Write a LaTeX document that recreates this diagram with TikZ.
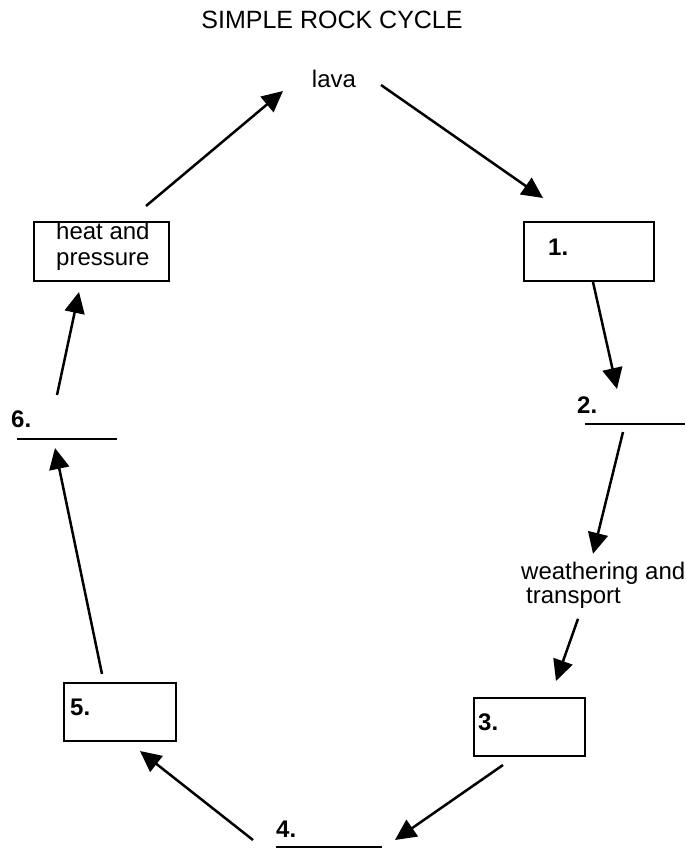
\documentclass[tikz,border=0pt]{standalone}
\usepackage{fontspec}
\setmainfont{Liberation Sans}
\usetikzlibrary{arrows.meta}
\begin{document}
\begin{tikzpicture}[x=1pt,y=-1pt,
  lbl/.style={font=\fontsize{24}{24}\selectfont, inner sep=0pt, anchor=base west},
  num/.style={font=\fontsize{24}{24}\selectfont\bfseries, inner sep=0pt, anchor=base west},
  box/.style={draw, line width=2pt, inner sep=0pt},
  blank/.style={inner sep=0pt, minimum width=100pt, minimum height=0pt},
  blankline/.style={line width=2pt},
  arr/.style={line width=2.5pt, -{Triangle[length=21pt,width=20pt]}}]
\useasboundingbox (0,0) rectangle (685,848);

% title and labels
\node[font=\fontsize{25}{25}\selectfont, anchor=base, inner sep=0pt] (title) at (332,29) {SIMPLE ROCK CYCLE};
\node[lbl, anchor=base] (lava) at (334,88) {lava};

% boxes
\node[box, minimum width=135pt, minimum height=59pt] (hp) at (101.5,251.5) {};
\node[lbl, anchor=north west, align=left, font=\fontsize{24}{26}\selectfont] (hpt) at (56,221.8) {heat and\\pressure};
\node[box, minimum width=130pt, minimum height=59pt] (b1) at (589,251.5) {};
\node[num] (n1) at (548,255) {1.};
\node[box, minimum width=111pt, minimum height=58pt] (b3) at (529.5,727) {};
\node[num] (n3) at (478,730) {3.};
\node[box, minimum width=112pt, minimum height=58pt] (b5) at (120,712) {};
\node[num] (n5) at (70,715) {5.};

% blanks
\node[num] (n2) at (577,413) {2.};
\node[blank] (b2) at (635,424) {};
\draw[blankline] (b2.west) -- (b2.east);
\node[num] (n6) at (11,427) {6.};
\node[blank] (b6) at (67,439) {};
\draw[blankline] (b6.west) -- (b6.east);
\node[num] (n4) at (276,837) {4.};
\node[blank, minimum width=106pt] (b4) at (329,846.5) {};
\draw[blankline] (b4.west) -- (b4.east);

% weathering
\node[lbl, anchor=north west, align=left] (wt) at (521,561.8) {weathering and\\\hspace*{5pt}transport};

% arrows
\draw[arr] ([shift={(44.5,-15)}]hp.north) -- ([shift={(-51,3)}]lava.base);
\draw[arr] ([shift={(47,-3)}]lava.base) -- ([shift={(-46,-23)}]b1.north);
\draw[arr] ([shift={(4,0)}]b1.south) -- ([shift={(-18,-35)}]b2.center);
\draw[arr] ([shift={(-12,8)}]b2.center) -- ([shift={(72,-8)}]wt.north west);
\draw[arr] ([shift={(57,57)}]wt.north west) -- ([shift={(26.5,-16)}]b3.north);
\draw[arr] ([shift={(-26.5,8)}]b3.south) -- ([shift={(66,-6.5)}]b4.center);
\draw[arr] ([shift={(-76,-6.5)}]b4.center) -- ([shift={(20,9)}]b5.south);
\draw[arr] ([shift={(-18,-8)}]b5.north) -- ([shift={(-12,9)}]b6.center);
\draw[arr] ([shift={(-10,-44)}]b6.center) -- ([shift={(-22.5,10)}]hp.south);
\end{tikzpicture}
\end{document}
